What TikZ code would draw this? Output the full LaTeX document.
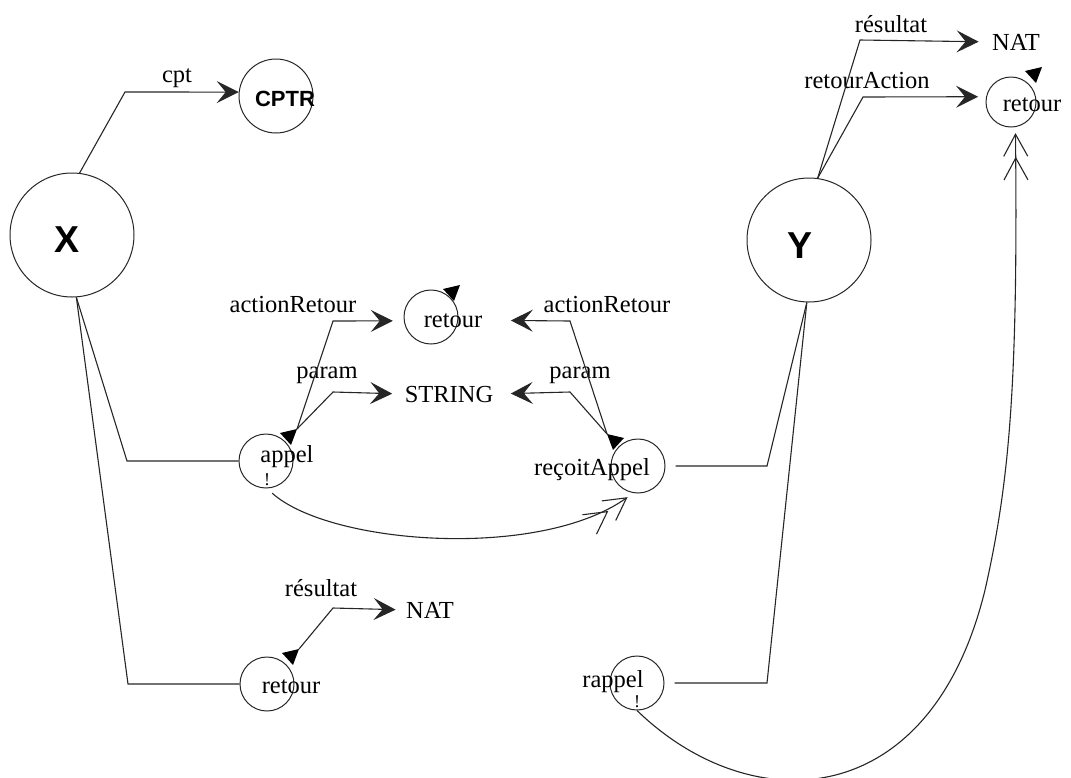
\documentclass[tikz,border=0pt]{standalone}
\usepackage{fontspec}
\setmainfont{Liberation Serif}
\newfontfamily\arial{Liberation Sans}
\usetikzlibrary{arrows.meta}

% petit triangle plein pose sur un etat (#1=-1 pour le retourner)
\newcommand{\marque}[2][1]{\fill #2 -- ++(-17*#1,4) -- ++(11*#1,12) -- cycle;}

\begin{document}
\begin{tikzpicture}[
    x=1pt, y=-1pt,
    line width=1.1pt, draw=black!85,
    % --- ETATS ---
    etat/.style={circle, draw=black!85, line width=1pt, minimum size=54pt, inner sep=0pt},
    grand/.style={etat, minimum size=124pt},
    nom/.style={anchor=base, inner sep=0pt, font=\fontsize{24.5}{28}\selectfont},
    gras/.style={anchor=base, inner sep=0pt, font=\arial\bfseries\fontsize{37.5}{40}\selectfont},
    excl/.style={anchor=base, inner sep=0pt, font=\fontsize{18}{20}\selectfont},
    % --- FLECHES ---
    fleche/.style={-{Stealth[length=22pt,width=22pt,inset=9pt]}},
    appelfl/.style={-{Straight Barb[length=22pt,width=24pt,sep=0pt] Straight Barb[length=22pt,width=24pt]}}
]
    \useasboundingbox (0,0) rectangle (1071,777);

    % --- LES DEUX OBJETS ---
    \node[grand] (X) at (72,235) {};
    \node[gras] (X-t) at (67,252) {X};
    \node[grand] (Y) at (809,240) {};
    \node[gras] (Y-t) at (800,258) {Y};

    \node[etat, minimum size=74pt] (cptr) at (276,96) {};
    \node[nom, font=\arial\bfseries\fontsize{22}{24}\selectfont] (cptr-t) at (285,106) {CPTR};

    % --- ETATS ---
    \node[etat] (appel)  at (266,461) {};
    \node[etat] (recoit) at (638,466) {};
    \node[etat] (ret1)   at (431,317) {};
    \node[etat] (ret2)   at (267,684) {};
    \node[etat] (rappel) at (637,683) {};
    \node[etat, minimum size=50pt] (ret3) at (1011,102) {};

    \node[nom]  (appel-t)  at (287,462)  {appel};
    \node[excl] (appel-x)  at (267,485)  {!};
    \node[nom]  (recoit-t) at (592,475)  {reçoitAppel};
    \node[nom]  (ret1-t)   at (453,327)  {retour};
    \node[nom]  (ret2-t)   at (291,693)  {retour};
    \node[nom]  (rappel-t) at (613,687)  {rappel};
    \node[excl] (rappel-x) at (637,707)  {!};
    \node[nom]  (ret3-t)   at (1032,111) {retour};

    \node[nom] (string) at (449,402) {STRING};
    \node[nom] (nat1)   at (430,618) {NAT};
    \node[nom] (nat2)   at (1016,50) {NAT};

    % --- ETIQUETTES ---
    \node[nom] (l-cpt)  at (177,82)  {cpt};
    \node[nom] (l-ar1)  at (293,312) {actionRetour};
    \node[nom] (l-ar2)  at (607,312) {actionRetour};
    \node[nom] (l-p1)   at (327,378) {param};
    \node[nom] (l-p2)   at (580,378) {param};
    \node[nom] (l-res1) at (321,596) {résultat};
    \node[nom] (l-res2) at (891,32)  {résultat};
    \node[nom] (l-ra)   at (867,88)  {retourAction};

    \coordinate (appel-m)  at (297,429);
    \coordinate (recoit-m) at (607,434);
    \coordinate (ret1-m)   at (460,285);
    \coordinate (ret2-m)   at (299,649);
    \coordinate (ret3-m)   at (1042,67);

    % --- LIENS ---
    \draw[fleche] (X.83) -- (125,92) -- (cptr.174);
    \draw (X.-86) -- (127,461) -- (appel.west);
    \draw (X.-86) -- (128,684) -- (ret2.west);

    \draw[fleche, shorten >=11pt] (appel-m) -- (333,321) -- (ret1.188);
    \draw[fleche, shorten >=12pt] (appel-m) -- (333,392) -- (string.west);
    \draw[fleche, shorten >=28pt] (recoit-m) -- (570,321) -- (ret1-t.east);
    \draw[fleche, shorten >=17pt] (recoit-m) -- (570,392) -- (string.east);

    \draw[shorten <=10pt] (recoit.east) -- (767,466) -- (Y.-92);
    \draw[shorten <=10pt] (rappel.east) -- (767,683) -- (Y.-92);

    \draw[fleche, shorten >=10pt] (ret2-m) -- (333,608) -- (nat1.west);
    \draw[fleche, shorten >=13pt] (Y.82) -- (860,40) -- (nat2.west);
    \draw[fleche, shorten >=8pt]  (Y.82) -- (863,97) -- (ret3.168);

    % --- APPELS ---
    \draw[appelfl, shorten <=7pt, shorten >=7pt] (appel.-88)
        .. controls (330,545) and (540,560) .. (recoit.-100);
    \draw[appelfl, shorten >=6pt] (rappel.-90)
        .. controls (750,820) and (930,815) .. (985,590)
        .. controls (1010,480) and (1018,380) .. (ret3.-80);

    \marque{(appel-m)}
    \marque[-1]{(recoit-m)}
    \marque{(ret1-m)}
    \marque{(ret2-m)}
    \marque{(ret3-m)}

\end{tikzpicture}
\end{document}
